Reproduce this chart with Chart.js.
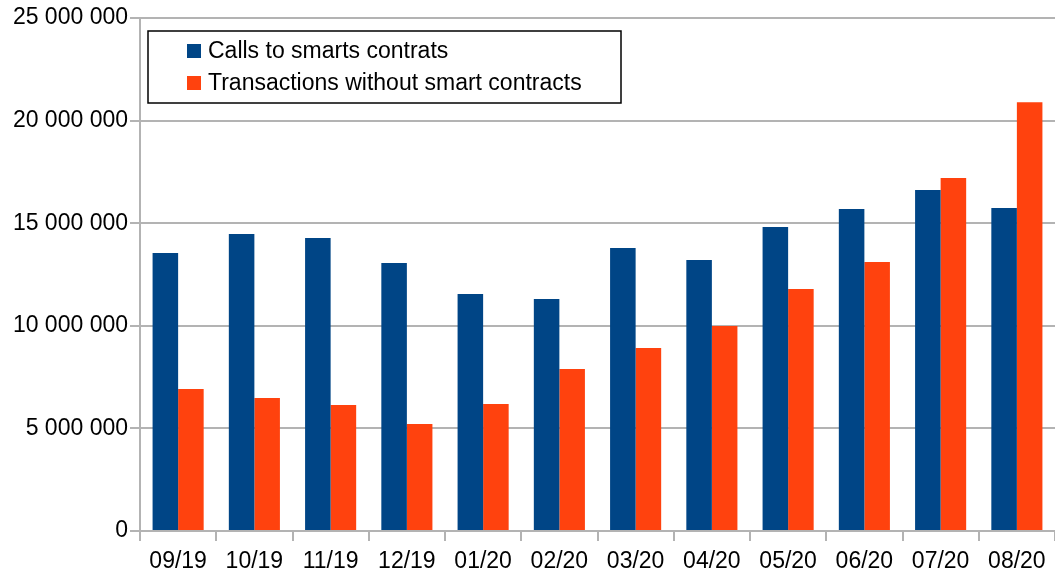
<!DOCTYPE html>
<html>
<head>
<meta charset="utf-8">
<script src="https://cdn.jsdelivr.net/npm/chart.js@4/dist/chart.umd.min.js"></script>
<style>
  html, body { margin: 0; padding: 0; background: #fff; }
  #wrap { width: 1055px; height: 571px; position: relative; }
</style>
</head>
<body>
<div id="wrap"><canvas id="myChart"></canvas></div>
<script>
// データ
const months = ['09/19', '10/19', '11/19', '12/19', '01/20', '02/20', '03/20', '04/20', '05/20', '06/20', '07/20', '08/20'];
const callsVal = [13550000, 14470000, 14280000, 13060000, 11550000, 11310000, 13790000, 13210000, 14810000, 15690000, 16620000, 15740000];
const txVal = [6920000, 6480000, 6140000, 5210000, 6190000, 7890000, 8920000, 9990000, 11790000, 13110000, 17200000, 20900000];
const seriesNames = ['Calls to smarts contrats', 'Transactions without smart contracts'];
const seriesColors = ['#004586', '#ff420e'];

const fontName = '"Liberation Sans", Arial, sans-serif';
const fontSize = 23;

function fmt(v) {
  return String(v).replace(/\B(?=(\d{3})+(?!\d))/g, ' ');
}

// 凡例（枠付き）
const boxLegend = {
  id: 'boxLegend',
  afterDraw(chart) {
    const ctx = chart.ctx;
    const x = 148, y = 31, w = 473, h = 72;
    ctx.save();
    ctx.fillStyle = '#fff';
    ctx.fillRect(x, y, w, h);
    ctx.strokeStyle = '#000';
    ctx.lineWidth = 1.5;
    ctx.strokeRect(x, y, w, h);
    ctx.font = fontSize + 'px ' + fontName;
    ctx.textBaseline = 'middle';
    chart.data.datasets.forEach((ds, i) => {
      const cy = y + 20 + i * 32;
      ctx.fillStyle = ds.backgroundColor;
      ctx.fillRect(187, cy - 7, 14, 14);
      ctx.fillStyle = '#000';
      ctx.fillText(ds.label, 208, cy + 1);
    });
    ctx.restore();
  }
};

const config = {
  type: 'bar',
  data: {
    labels: months,
    datasets: [
      { label: seriesNames[0], data: callsVal, backgroundColor: seriesColors[0] },
      { label: seriesNames[1], data: txVal, backgroundColor: seriesColors[1] },
    ],
  },
  options: {
    responsive: true,
    maintainAspectRatio: false,
    animation: false,
    layout: { padding: { top: 18, right: 0, left: 0, bottom: 0 } },
    datasets: { bar: { categoryPercentage: 0.67, barPercentage: 1.0 } },
    plugins: { legend: { display: false }, tooltip: { enabled: false } },
    scales: {
      x: {
        grid: { drawOnChartArea: false, drawTicks: true, tickLength: 10, color: '#b3b3b3', lineWidth: 2 },
        border: { color: '#b3b3b3', width: 2 },
        ticks: { color: '#000', font: { family: fontName, size: fontSize }, padding: 7, maxRotation: 0, autoSkip: false },
        afterFit(scale) { scale.height = 40; },
      },
      y: {
        min: 0,
        max: 25000000,
        grid: { color: '#b3b3b3', lineWidth: 2, tickLength: 10 },
        border: { color: '#b3b3b3', width: 2 },
        ticks: {
          stepSize: 5000000,
          color: '#000',
          font: { family: fontName, size: fontSize },
          padding: 2,
          callback: (v) => fmt(v),
        },
        afterFit(scale) { scale.width = 140; },
      },
    },
  },
  plugins: [boxLegend],
};

const myChart = new Chart(document.getElementById('myChart'), config);
</script>
</body>
</html>
